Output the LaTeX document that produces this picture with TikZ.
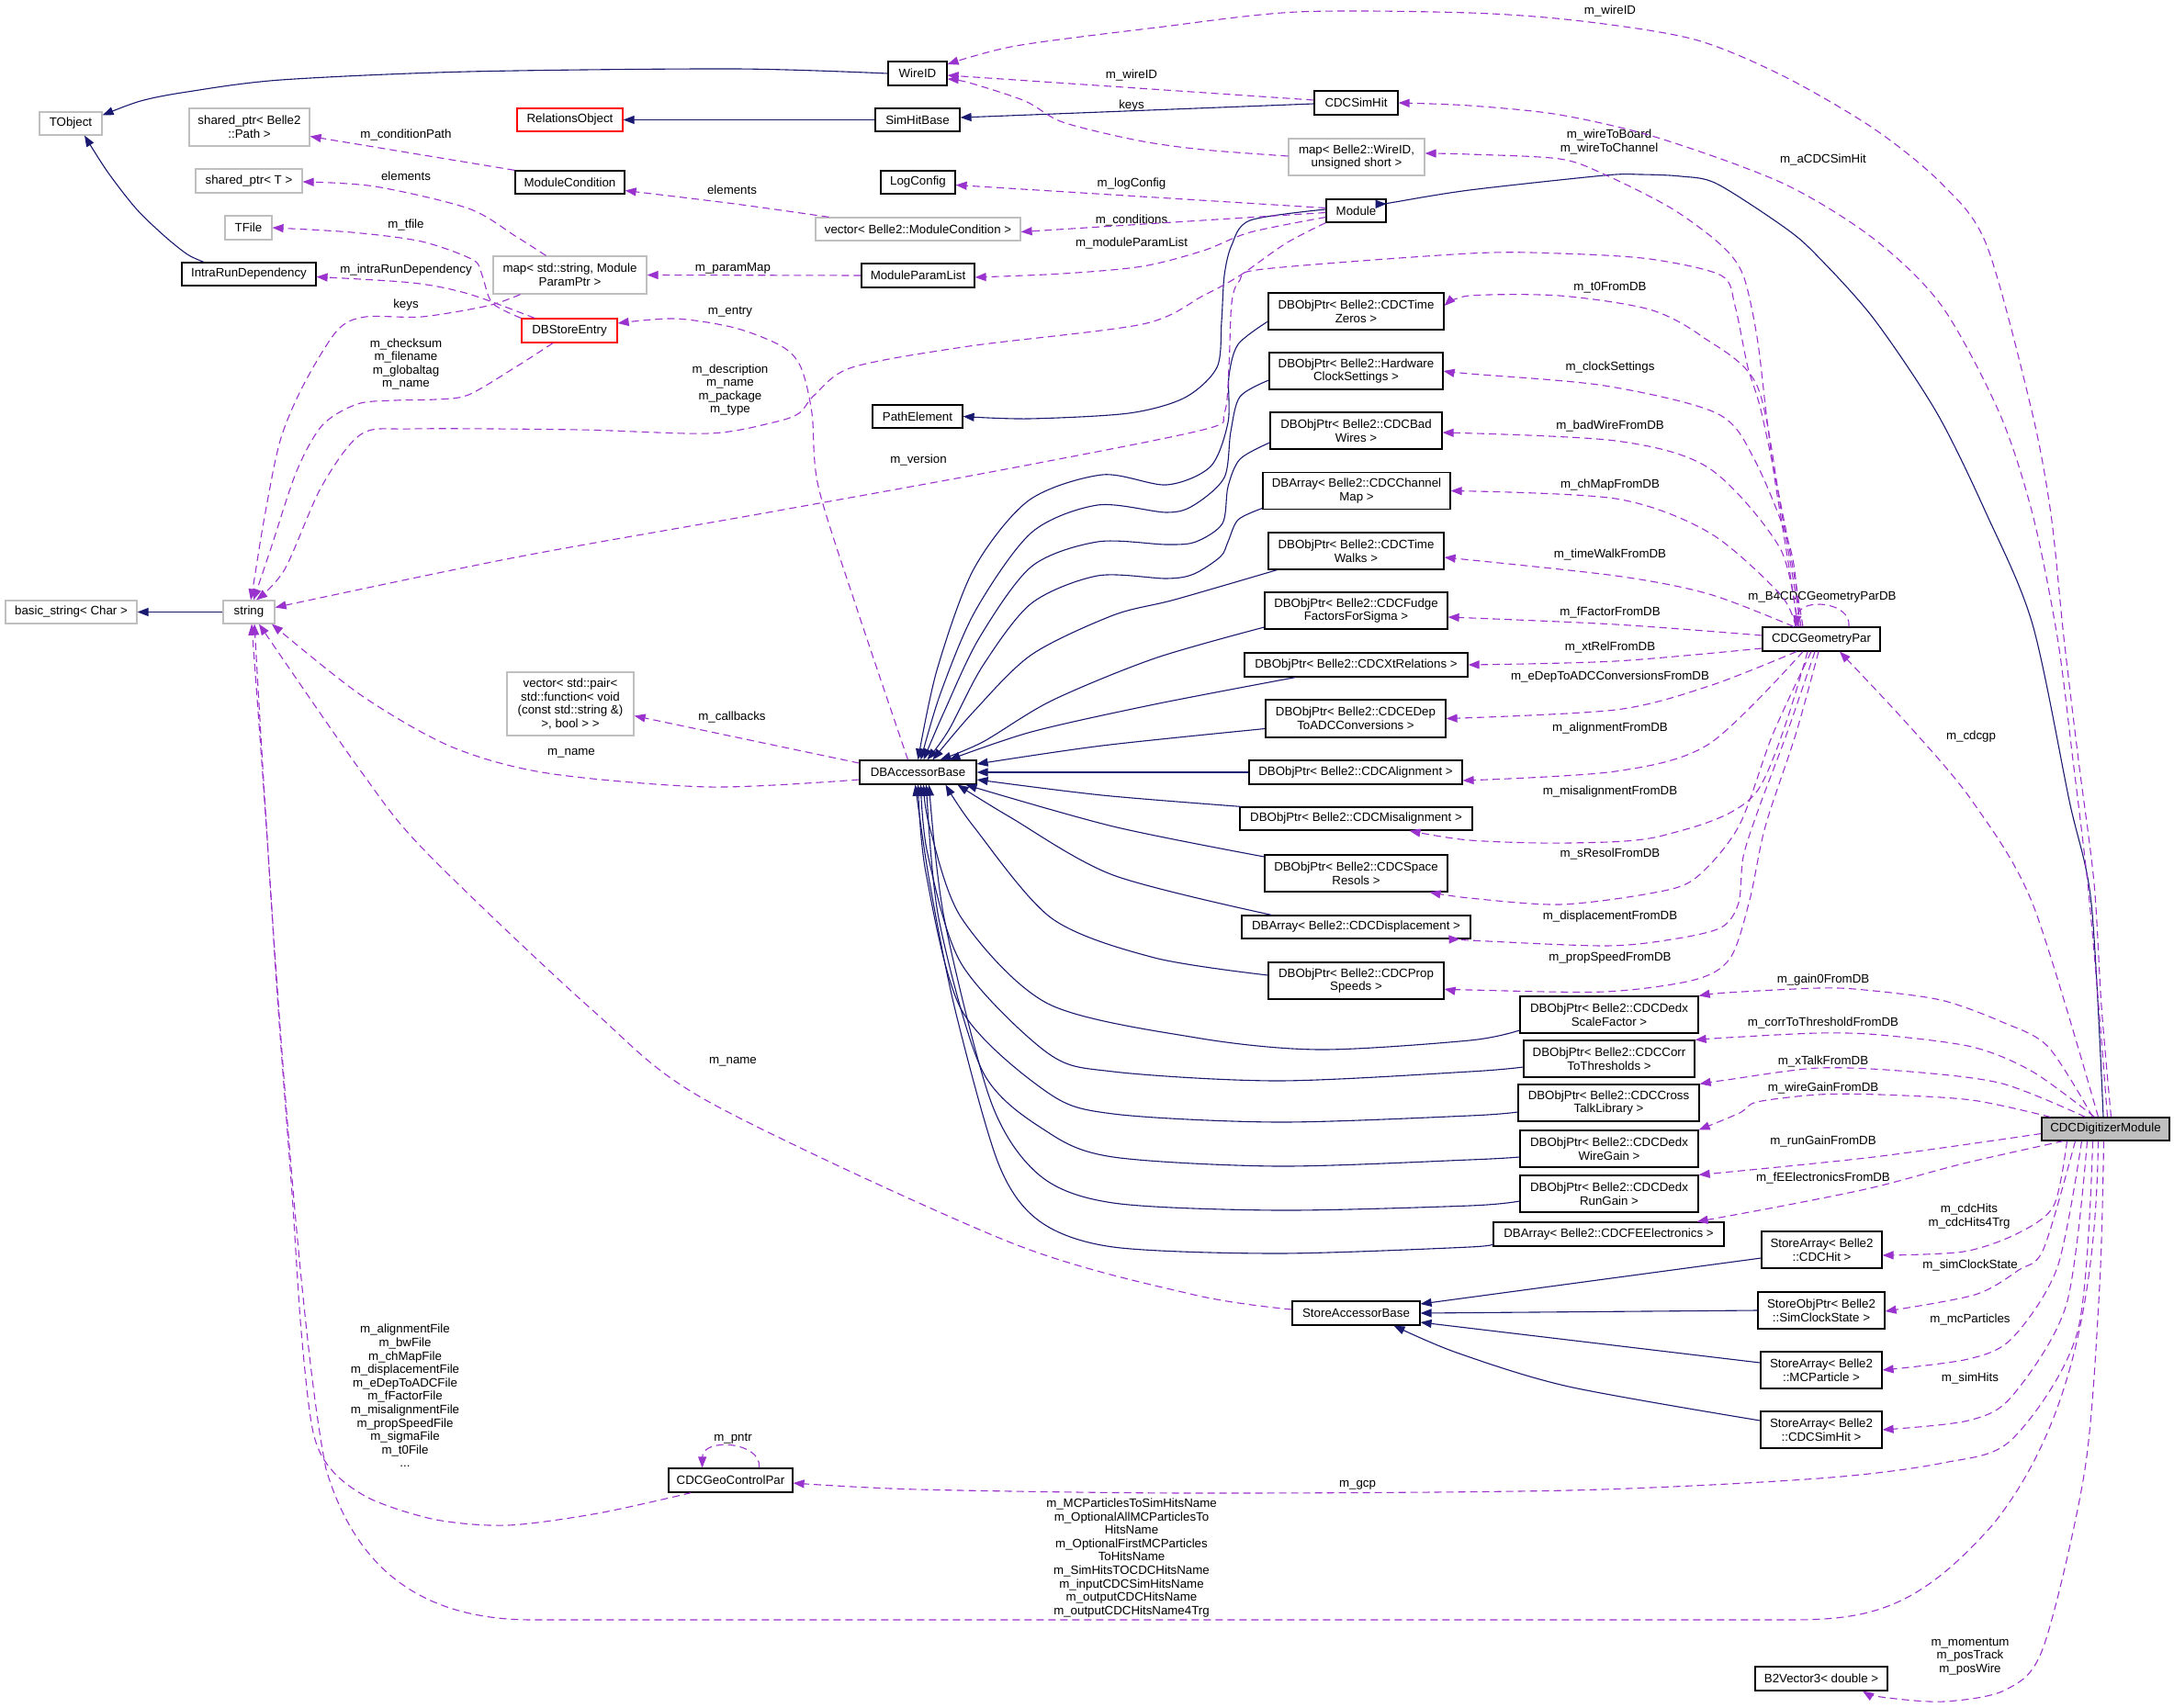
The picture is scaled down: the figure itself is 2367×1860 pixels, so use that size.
\documentclass[tikz,border=0pt]{standalone}
\usepackage{fontspec}
\setmainfont{Liberation Sans}
\usetikzlibrary{arrows.meta}
\definecolor{navy}{HTML}{191970}
\definecolor{purp}{HTML}{9A32CD}
\definecolor{gbx}{HTML}{BFBFBF}
\definecolor{redb}{HTML}{FF0000}
\newcommand\nf{\fontsize{13.3}{14.6}\selectfont}
\tikzset{
  cls/.style={draw=black, line width=1.2pt, inner sep=0pt, align=center, font=\nf, text=black},
  ext/.style={cls, draw=gbx},
  redbox/.style={cls, draw=redb},
  lbl/.style={inner sep=0pt, align=center, font=\nf},
  inh/.style={draw=navy, line width=1.1pt, -{Triangle[length=12pt,width=9pt]}},
  usg/.style={draw=purp, line width=1.1pt, dash pattern=on 8pt off 5pt, -{Triangle[length=12pt,width=9pt]}},
}
\begin{document}
\begin{tikzpicture}[x=1pt,y=-1pt]
\fill[white] (0,0) rectangle (2367,1860);
\useasboundingbox (0,0) rectangle (2367,1860);
% nodes
\node[ext, minimum width=68pt, minimum height=25pt] (tobject) at (77,134.5) {TObject};
\node[ext, minimum width=131pt, minimum height=41pt] (spath) at (271.5,138.5) {shared\_ptr< Belle2\\::Path >};
\node[ext, minimum width=116pt, minimum height=26pt] (spt) at (271,197) {shared\_ptr< T >};
\node[ext, minimum width=51pt, minimum height=26pt] (tfile) at (270.5,248) {TFile};
\node[cls, minimum width=146pt, minimum height=25pt] (intra) at (271,298.5) {IntraRunDependency};
\node[redbox, minimum width=115pt, minimum height=25pt] (relobj) at (620.5,130.5) {RelationsObject};
\node[cls, minimum width=119pt, minimum height=25pt] (modcond) at (620.5,198.5) {ModuleCondition};
\node[ext, minimum width=167pt, minimum height=41pt] (mapstr) at (620.5,299.5) {map< std::string, Module\\ParamPtr >};
\node[redbox, minimum width=104pt, minimum height=26pt] (dbse) at (620,360) {DBStoreEntry};
\node[cls, minimum width=64pt, minimum height=26pt] (wireid) at (999,80) {WireID};
\node[cls, minimum width=92pt, minimum height=25pt] (simhitbase) at (999,130.5) {SimHitBase};
\node[cls, minimum width=91pt, minimum height=26pt] (cdcsimhit) at (1476.5,112) {CDCSimHit};
\node[ext, minimum width=148pt, minimum height=40pt] (mapwire) at (1477,171) {map< Belle2::WireID,\\unsigned short >};
\node[cls, minimum width=81pt, minimum height=25pt] (logconfig) at (999.5,198.5) {LogConfig};
\node[ext, minimum width=223pt, minimum height=25pt] (vecmc) at (999.5,249.5) {vector< Belle2::ModuleCondition >};
\node[cls, minimum width=65pt, minimum height=25pt] (module) at (1476.5,229.5) {Module};
\node[cls, minimum width=123pt, minimum height=26pt] (mpl) at (999.5,300) {ModuleParamList};
\node[cls, minimum width=191pt, minimum height=40pt] (zeros) at (1476.5,339) {DBObjPtr< Belle2::CDCTime\\Zeros >};
\node[cls, minimum width=189pt, minimum height=40pt] (hw) at (1476.5,404) {DBObjPtr< Belle2::Hardware\\ClockSettings >};
\node[cls, minimum width=98pt, minimum height=25pt] (pathel) at (999,453.5) {PathElement};
\node[cls, minimum width=187pt, minimum height=40pt] (badw) at (1476.5,469) {DBObjPtr< Belle2::CDCBad\\Wires >};
\node[cls, minimum width=204pt, minimum height=40pt] (chmap) at (1477,534.5) {DBArray< Belle2::CDCChannel\\Map >};
\node[cls, minimum width=191pt, minimum height=40pt] (walks) at (1476.5,600) {DBObjPtr< Belle2::CDCTime\\Walks >};
\node[cls, minimum width=199pt, minimum height=40pt] (fudge) at (1476.5,665) {DBObjPtr< Belle2::CDCFudge\\FactorsForSigma >};
\node[cls, minimum width=243pt, minimum height=26pt] (xt) at (1476.5,724) {DBObjPtr< Belle2::CDCXtRelations >};
\node[cls, minimum width=196pt, minimum height=41pt] (edep) at (1476,782.5) {DBObjPtr< Belle2::CDCEDep\\ToADCConversions >};
\node[cls, minimum width=232pt, minimum height=26pt] (align) at (1476,841) {DBObjPtr< Belle2::CDCAlignment >};
\node[cls, minimum width=253pt, minimum height=25pt] (misal) at (1476.5,891.5) {DBObjPtr< Belle2::CDCMisalignment >};
\node[cls, minimum width=199pt, minimum height=40pt] (sres) at (1476.5,951) {DBObjPtr< Belle2::CDCSpace\\Resols >};
\node[cls, minimum width=249pt, minimum height=25pt] (displ) at (1476.5,1009.5) {DBArray< Belle2::CDCDisplacement >};
\node[cls, minimum width=191pt, minimum height=40pt] (prop) at (1476.5,1068) {DBObjPtr< Belle2::CDCProp\\Speeds >};
\node[cls, minimum width=128pt, minimum height=26pt] (geom) at (1983,696) {CDCGeometryPar};
\node[ext, minimum width=143pt, minimum height=25pt] (bstr) at (77.5,666.5) {basic\_string< Char >};
\node[ext, minimum width=56pt, minimum height=25pt] (string) at (271,666.5) {string};
\node[ext, minimum width=138pt, minimum height=69pt] (vecpair) at (621,766.5) {vector< std::pair<\\std::function< void\\(const std::string \&)\\>, bool > >};
\node[cls, minimum width=127pt, minimum height=26pt] (dbab) at (999.5,841) {DBAccessorBase};
\node[cls, minimum width=194pt, minimum height=40pt] (scale) at (1752,1105) {DBObjPtr< Belle2::CDCDedx\\ScaleFactor >};
\node[cls, minimum width=186pt, minimum height=40pt] (corr) at (1752,1153) {DBObjPtr< Belle2::CDCCorr\\ToThresholds >};
\node[cls, minimum width=197pt, minimum height=40pt] (cross) at (1751.5,1201) {DBObjPtr< Belle2::CDCCross\\TalkLibrary >};
\node[cls, minimum width=194pt, minimum height=40pt] (wgain) at (1752,1251) {DBObjPtr< Belle2::CDCDedx\\WireGain >};
\node[cls, minimum width=194pt, minimum height=40pt] (rgain) at (1752,1300) {DBObjPtr< Belle2::CDCDedx\\RunGain >};
\node[cls, minimum width=251pt, minimum height=26pt] (fee) at (1751.5,1344) {DBArray< Belle2::CDCFEElectronics >};
\node[cls, fill=gbx, minimum width=139pt, minimum height=25pt] (digit) at (2292.5,1229.5) {CDCDigitizerModule};
\node[cls, minimum width=131pt, minimum height=40pt] (cdchit) at (1983.5,1361) {StoreArray< Belle2\\::CDCHit >};
\node[cls, minimum width=138pt, minimum height=40pt] (simclock) at (1983,1427) {StoreObjPtr< Belle2\\::SimClockState >};
\node[cls, minimum width=132pt, minimum height=40pt] (mcpart) at (1983,1492) {StoreArray< Belle2\\::MCParticle >};
\node[cls, minimum width=132pt, minimum height=40pt] (sasimhit) at (1983,1557) {StoreArray< Belle2\\::CDCSimHit >};
\node[cls, minimum width=139pt, minimum height=26pt] (sab) at (1476.5,1430) {StoreAccessorBase};
\node[cls, minimum width=144pt, minimum height=26pt] (b2v) at (1983,1828) {B2Vector3< double >};
\node[cls, minimum width=135pt, minimum height=26pt] (geoctrl) at (795.5,1612) {CDCGeoControlPar};
% labels
\node[lbl] (l01) at (1753,12) {m\_wireID};
\node[lbl] (l02) at (1232,82) {m\_wireID};
\node[lbl] (l03) at (1232,115) {keys};
\node[lbl] (l04) at (1752,154.5) {m\_wireToBoard\\m\_wireToChannel};
\node[lbl] (l05) at (1985,174) {m\_aCDCSimHit};
\node[lbl] (l06) at (1232,200) {m\_logConfig};
\node[lbl] (l07) at (1232,240) {m\_conditions};
\node[lbl] (l08) at (1232,265) {m\_moduleParamList};
\node[lbl] (l09) at (442,147) {m\_conditionPath};
\node[lbl] (l10) at (442,192) {elements};
\node[lbl] (l11) at (442,245) {m\_tfile};
\node[lbl] (l12) at (442,294) {m\_intraRunDependency};
\node[lbl] (l13) at (442,332) {keys};
\node[lbl] (l14) at (442,396.5) {m\_checksum\\m\_filename\\m\_globaltag\\m\_name};
\node[lbl] (l15) at (795,424.5) {m\_description\\m\_name\\m\_package\\m\_type};
\node[lbl] (l16) at (795,340) {m\_entry};
\node[lbl] (l17) at (798,292) {m\_paramMap};
\node[lbl] (l18) at (797,207) {elements};
\node[lbl] (l19) at (1753,313) {m\_t0FromDB};
\node[lbl] (l20) at (1753,400) {m\_clockSettings};
\node[lbl] (l21) at (1000,501) {m\_version};
\node[lbl] (l22) at (797,781) {m\_callbacks};
\node[lbl] (l23) at (622,820) {m\_name};
\node[lbl] (l24) at (1753,464) {m\_badWireFromDB};
\node[lbl] (l25) at (1753,528) {m\_chMapFromDB};
\node[lbl] (l26) at (1753,604) {m\_timeWalkFromDB};
\node[lbl] (l27) at (1984,650) {m\_B4CDCGeometryParDB};
\node[lbl] (l28) at (1753,667) {m\_fFactorFromDB};
\node[lbl] (l29) at (1753,705) {m\_xtRelFromDB};
\node[lbl] (l30) at (1753,737) {m\_eDepToADCConversionsFromDB};
\node[lbl] (l31) at (1753,793) {m\_alignmentFromDB};
\node[lbl] (l32) at (1753,862) {m\_misalignmentFromDB};
\node[lbl] (l33) at (1753,930) {m\_sResolFromDB};
\node[lbl] (l34) at (1753,998) {m\_displacementFromDB};
\node[lbl] (l35) at (1753,1043) {m\_propSpeedFromDB};
\node[lbl] (l36) at (2146,802) {m\_cdcgp};
\node[lbl] (l37) at (1985,1067) {m\_gain0FromDB};
\node[lbl] (l38) at (1985,1114) {m\_corrToThresholdFromDB};
\node[lbl] (l39) at (1985,1156) {m\_xTalkFromDB};
\node[lbl] (l40) at (1985,1185) {m\_wireGainFromDB};
\node[lbl] (l41) at (1985,1243) {m\_runGainFromDB};
\node[lbl] (l42) at (1985,1283) {m\_fEElectronicsFromDB};
\node[lbl] (l43) at (2144,1324.5) {m\_cdcHits\\m\_cdcHits4Trg};
\node[lbl] (l44) at (2145,1378) {m\_simClockState};
\node[lbl] (l45) at (2145,1437) {m\_mcParticles};
\node[lbl] (l46) at (2145,1501) {m\_simHits};
\node[lbl] (l47) at (798,1156) {m\_name};
\node[lbl] (l48) at (441,1520) {m\_alignmentFile\\m\_bwFile\\m\_chMapFile\\m\_displacementFile\\m\_eDepToADCFile\\m\_fFactorFile\\m\_misalignmentFile\\m\_propSpeedFile\\m\_sigmaFile\\m\_t0File\\...};
\node[lbl] (l49) at (798,1567) {m\_pntr};
\node[lbl] (l50) at (1478,1617) {m\_gcp};
\node[lbl] (l51) at (1232,1696.5) {m\_MCParticlesToSimHitsName\\m\_OptionalAllMCParticlesTo\\HitsName\\m\_OptionalFirstMCParticles\\ToHitsName\\m\_SimHitsTOCDCHitsName\\m\_inputCDCSimHitsName\\m\_outputCDCHitsName\\m\_outputCDCHitsName4Trg};
\node[lbl] (l52) at (2145,1804) {m\_momentum\\m\_posTrack\\m\_posWire};
% inheritance
\draw[inh] plot[smooth] coordinates {(wireid.west) (800,75) (510,78) (306,87) (204,100) (153,110) ([yshift=9pt]tobject.east)};
\draw[inh] plot[smooth] coordinates {([xshift=-49pt]intra.north) (204,277) (179,257) (148,227) (117,187) ([xshift=15pt]tobject.south)};
\draw[inh] (simhitbase.west) -- (relobj.east);
\draw[inh] ([yshift=-1pt]cdcsimhit.west) -- ([yshift=2.5pt]simhitbase.east);
\draw[inh] plot[smooth] coordinates {([yshift=1.5pt]module.west) (1361,240) (1341,267) (1333,300) (1330,350) (1325,400) (1290,433) (1229,450) (1120,456) (pathel.east)};
\draw[inh] plot[smooth] coordinates {([xshift=-2.5pt]digit.north) (2277,984) (2253,872) (2213,680) (2163,560) (2109,450) (2040,347) (1977,277) (1942,247) (1869,200) (1830,192) (1786,190) (1747,191) (1600,207) (1519,220) ([yshift=7.5pt]module.east)};
\draw[inh] plot[smooth] coordinates {([yshift=-11pt]zeros.west) (1348,375) (1338,410) (1337,460) (1318,508) (1270,528) (1200,517) (1120,545) (1060,620) (1020,730) (dbab.north)};
\draw[inh] plot[smooth] coordinates {([yshift=-10pt]hw.west) (1350,432) (1340,470) (1333,520) (1300,550) (1270,558) (1195,550) (1123,580) (1062,665) (1024,755) ([xshift=3pt]dbab.north)};
\draw[inh] plot[smooth] coordinates {([yshift=-13pt]badw.west) (1350,500) (1337,530) (1331,570) (1302,590) (1270,593) (1195,590) (1123,617) (1066,695) (1028,775) ([xshift=6pt]dbab.north)};
\draw[inh] plot[smooth] coordinates {([yshift=-19pt]chmap.west) (1348,566) (1337,590) (1329,606) (1300,625) (1270,630) (1195,627) (1123,657) (1070,725) (1033,795) ([xshift=10pt]dbab.north)};
\draw[inh] plot[smooth] coordinates {([xshift=-86pt]walks.south) (1279,653) (1212,670) (1123,713) (1060,775) ([xshift=16pt]dbab.north)};
\draw[inh] plot[smooth] coordinates {([yshift=-18pt]fudge.west) (1257,717) (1145,763) (1070,808) ([xshift=24pt]dbab.north)};
\draw[inh] plot[smooth] coordinates {([xshift=-66pt]xt.south) (1257,767) (1123,797) ([xshift=34pt]dbab.north)};
\draw[inh] plot[smooth] coordinates {([yshift=-11pt]edep.west) (1200,812) ([yshift=9pt]dbab.east)};
\draw[inh] (align.west) -- (dbab.east);
\draw[inh] plot[smooth] coordinates {([xshift=-125pt]misal.north) (1200,866) ([yshift=-8pt]dbab.east)};
\draw[inh] plot[smooth] coordinates {([yshift=18pt]sres.west) (1212,900) ([xshift=52pt]dbab.south)};
\draw[inh] plot[smooth] coordinates {([xshift=-92pt]displ.north) (1212,953) (1100,890) ([xshift=43pt]dbab.south)};
\draw[inh] plot[smooth] coordinates {([yshift=6pt]prop.west) (1257,1043) (1145,1000) (1060,900) ([xshift=30pt]dbab.south)};
\draw[inh] plot[smooth] coordinates {([yshift=-17pt]scale.west) (1600,1133) (1436,1143) (1302,1130) (1141,1093) (1047,1000) (1012,900) ([xshift=6pt]dbab.south)};
\draw[inh] plot[smooth] coordinates {([yshift=-9pt]corr.west) (1600,1167) (1391,1177) (1212,1167) (1141,1147) (1047,1050) (1010,930) ([xshift=3pt]dbab.south)};
\draw[inh] plot[smooth] coordinates {([yshift=-10pt]cross.west) (1600,1215) (1391,1222) (1212,1213) (1141,1190) (1047,1100) (1008,950) (dbab.south)};
\draw[inh] plot[smooth] coordinates {([yshift=-9pt]wgain.west) (1600,1263) (1391,1270) (1212,1260) (1141,1233) (1070,1167) (1022,1000) ([xshift=9pt]dbab.south)};
\draw[inh] plot[smooth] coordinates {([yshift=-8pt]rgain.west) (1600,1313) (1391,1318) (1212,1310) (1132,1280) (1079,1200) (1028,1000) ([xshift=12pt]dbab.south)};
\draw[inh] plot[smooth] coordinates {([yshift=-10pt]fee.west) (1600,1358) (1391,1365) (1212,1358) (1132,1330) (1087,1267) (1040,1100) (1012,960) ([xshift=-3pt]dbab.south)};
\draw[inh] ([yshift=-9pt]cdchit.west) -- ([yshift=10pt]sab.east);
\draw[inh] (simclock.west) -- (sab.east);
\draw[inh] ([yshift=8pt]mcpart.west) -- ([yshift=-10pt]sab.east);
\draw[inh] plot[smooth] coordinates {([yshift=10pt]sasimhit.west) (1708,1510) (1586,1473) ([xshift=41pt]sab.south)};
\draw[inh] (string.west) -- (bstr.east);
% usage
\draw[usg] plot[smooth] coordinates {([xshift=6pt]digit.north) (2288,1096) (2280,962) (2263,828) (2247,694) (2233,560) (2212,447) (2163,267) (2114,200) (2040,140) (1942,83) (1845,43) (1722,23) (1600,14) (1412,13) (1259,30) (1106,50) ([yshift=10pt]wireid.east)};
\draw[usg] plot[smooth] coordinates {([xshift=2pt]digit.north) (2285,1096) (2273,962) (2257,828) (2240,694) (2213,560) (2177,450) (2114,333) (2040,260) (1942,200) (1805,150) (1698,125) (1600,115) (cdcsimhit.east)};
\draw[usg] ([yshift=3pt]cdcsimhit.west) -- ([yshift=-2pt]wireid.east);
\draw[usg] plot[smooth] coordinates {([yshift=1pt]mapwire.west) (1310,163) (1239,153) (1157,133) (1116,110) (1055,90) ([yshift=-6pt]wireid.east)};
\draw[usg] plot[smooth] coordinates {([xshift=-25pt]geom.north) (1945,600) (1932,520) (1923,450) (1913,367) (1898,300) (1874,267) (1820,227) (1747,190) (1698,173) (1600,168) ([yshift=4pt]mapwire.east)};
\draw[usg] ([yshift=3pt]module.west) -- ([yshift=-3pt]logconfig.east);
\draw[usg] ([yshift=-2pt]module.west) -- ([yshift=-3pt]vecmc.east);
\draw[usg] plot[smooth] coordinates {([yshift=-7pt]module.west) (1361,253) (1310,273) (1244,290) (1157,298) ([yshift=-2pt]mpl.east)};
\draw[usg] (mpl.west) -- (mapstr.east);
\draw[usg] plot[smooth] coordinates {([xshift=-97pt]vecmc.north) (800,222) ([yshift=-9pt]modcond.east)};
\draw[usg] (modcond.north west) -- ([yshift=-10pt]spath.east);
\draw[usg] plot[smooth] coordinates {([xshift=-26pt]mapstr.north) (561,257) (510,227) (408,203) ([yshift=-1pt]spt.east)};
\draw[usg] plot[smooth] coordinates {(dbse.north west) (536,330) (525,300) (515,283) (459,263) (383,253) (tfile.east)};
\draw[usg] plot[smooth] coordinates {([xshift=-38pt]dbse.north) (510,320) (449,308) ([yshift=-3pt]intra.east)};
\draw[usg] plot[smooth] coordinates {([xshift=-54pt]mapstr.south) (531,333) (459,345) (398,345) (367,360) (330,420) (305,480) (288,563) (277,630) ([xshift=2pt]string.north)};
\draw[usg] plot[smooth] coordinates {([xshift=-18pt]dbse.south) (561,400) (510,430) (474,435) (430,436) (389,440) (351,463) (323,513) (295,597) ([xshift=5pt]string.north)};
\draw[usg] plot[smooth] coordinates {(module.south west) (1400,265) (1350,300) (1310,322) (1244,353) (1055,377) (928,400) (887,430) (870,450) (842,460) (772,472) (631,468) (449,467) (393,473) (350,530) (310,620) ([xshift=8pt]string.north)};
\draw[usg] plot[smooth] coordinates {([xshift=-20pt]geom.north) (1945,580) (1918,450) (1903,400) (1889,333) (1874,300) (1796,282) (1698,276) (1600,276) (1376,293) (1350,305) (1341,330) (1338,400) (1333,450) (1310,468) (1100,510) (842,557) (561,607) ([yshift=5pt]string.east)};
\draw[usg] plot[smooth] coordinates {([xshift=-11pt]dbab.north) (933,663) (891,530) (884,450) (872,400) (851,377) (800,357) (735,347) ([yshift=8pt]dbse.east)};
\draw[usg] ([yshift=10pt]dbab.west) -- ([yshift=-13pt]vecpair.east);
\draw[usg] plot[smooth] coordinates {([yshift=-8pt]dbab.west) (772,857) (596,842) (491,813) (393,757) ([xshift=25pt]string.south)};
\draw[usg] plot[smooth] coordinates {([yshift=4pt]sab.west) (1300,1410) (1100,1353) (772,1200) (645,1100) (463,927) (393,840) ([xshift=11pt]string.south)};
\draw[usg] plot[smooth] coordinates {([xshift=-43pt]geoctrl.south) (651,1648) (553,1661) (475,1655) (405,1633) (363,1603) (341,1560) (328,1450) (318,1300) (303,1100) (290,900) ([xshift=3pt]string.south)};
\draw[usg] ([xshift=-8pt]digit.south) .. controls (2282,1420) and (2250,1560) .. (2170,1660)
  .. controls (2090,1750) and (2040,1764) .. (1950,1764) -- (580,1764)
  .. controls (450,1764) and (385,1700) .. (355,1600)
  .. controls (325,1450) and (295,1000) .. ([xshift=6pt]string.south);
\draw[usg] plot[smooth] coordinates {([xshift=-8pt]digit.north) (2213,984) (2147,872) (2080,792) ([xshift=20pt]geom.south)};
\draw[usg] plot[smooth] coordinates {([xshift=-22pt]geom.north) (1940,560) (1913,420) (1854,367) (1796,337) (1698,322) (1600,322) ([yshift=6pt]zeros.east)};
\draw[usg] plot[smooth] coordinates {([xshift=-24pt]geom.north) (1950,600) (1910,500) (1869,450) (1747,420) (1600,407) (hw.east)};
\draw[usg] plot[smooth] coordinates {([xshift=-26pt]geom.north) (1938,597) (1861,510) (1759,480) ([yshift=-2pt]badw.east)};
\draw[usg] plot[smooth] coordinates {([xshift=-28pt]geom.north) (1938,647) (1861,580) (1759,543) (chmap.east)};
\draw[usg] plot[smooth] coordinates {([xshift=-30pt]geom.north) (1861,647) (1759,627) ([yshift=-7pt]walks.east)};
\draw[usg] plot[smooth] coordinates {([yshift=4pt]geom.west) (1759,680) ([yshift=-7pt]fudge.east)};
\draw[usg] plot[smooth] coordinates {([yshift=-10pt]geom.west) (1759,720) (xt.east)};
\draw[usg] plot[smooth] coordinates {([xshift=-27pt]geom.south) (1861,747) (1759,773) (edep.east)};
\draw[usg] plot[smooth] coordinates {([xshift=-20pt]geom.south) (1861,810) (1759,840) ([yshift=-9pt]align.east)};
\draw[usg] plot[smooth] coordinates {([xshift=-15pt]geom.south) (1912,863) (1810,910) (1708,918) (1600,915) ([xshift=58pt]misal.south)};
\draw[usg] plot[smooth] coordinates {([xshift=-11pt]geom.south) (1930,800) (1893,900) (1845,957) (1796,973) (1698,985) (1600,978) ([xshift=80pt]sres.south)};
\draw[usg] plot[smooth] coordinates {([xshift=-7pt]geom.south) (1945,800) (1915,880) (1898,933) (1893,983) (1874,1010) (1820,1023) (1747,1030) (1600,1024) ([xshift=113pt]displ.south)};
\draw[usg] plot[smooth] coordinates {([xshift=-3pt]geom.south) (1955,800) (1922,900) (1905,980) (1884,1043) (1845,1067) (1747,1080) (1600,1078) ([yshift=-9pt]prop.east)};
\draw[usg] ([xshift=30pt]geom.north) .. controls (2016,655) and (1960,650) .. ([xshift=-28pt]geom.north);
\draw[usg] ([xshift=31pt]geoctrl.north) .. controls (830,1570) and (765,1565) .. ([xshift=-31pt]geoctrl.north);
\draw[usg] plot[smooth] coordinates {([xshift=-14pt]digit.north) (2230,1140) (2180,1113) (2113,1089) (2030,1078) (1980,1076) (1880,1081) (scale.north east)};
\draw[usg] plot[smooth] coordinates {([xshift=-12pt]digit.north) (2213,1167) (2147,1140) (2047,1127) (1980,1125) (1880,1130) (corr.north east)};
\draw[usg] plot[smooth] coordinates {([xshift=-22pt]digit.north) (2180,1180) (2080,1167) (1980,1163) (1880,1176) (cross.north east)};
\draw[usg] plot[smooth] coordinates {([xshift=-60pt]digit.north) (2147,1198) (2047,1192) (1980,1192) (1913,1200) (1894,1212) (wgain.north east)};
\draw[usg] plot[smooth] coordinates {([yshift=-5pt]digit.west) (2040,1260) (rgain.north east)};
\draw[usg] plot[smooth] coordinates {([xshift=-46pt]digit.south) (2138,1267) (2040,1293) (1942,1313) ([xshift=-30pt]fee.north east)};
\draw[usg] plot[smooth] coordinates {([xshift=-42pt]digit.south) (2236,1313) (2197,1343) (2138,1363) ([yshift=-6pt]cdchit.east)};
\draw[usg] plot[smooth] coordinates {([xshift=-33pt]digit.south) (2225,1360) (2198,1383) (2150,1410) ([yshift=-1pt]simclock.east)};
\draw[usg] plot[smooth] coordinates {([xshift=-26pt]digit.south) (2240,1380) (2191,1457) (2143,1480) (mcpart.east)};
\draw[usg] plot[smooth] coordinates {([xshift=-20pt]digit.south) (2250,1420) (2191,1520) (2143,1547) (sasimhit.east)};
\draw[usg] plot[smooth] coordinates {([xshift=-14pt]digit.south) (2262,1450) (2191,1567) (2116,1593) (1980,1610) (1708,1623) (1300,1626) (1000,1622) ([yshift=-3pt]geoctrl.east)};
\draw[usg] plot[smooth] coordinates {([xshift=-2pt]digit.south) (2286,1400) (2270,1600) (2225,1793) (2184,1840) (2116,1853) (2048,1848) ([xshift=45pt]b2v.south)};
\end{tikzpicture}
\end{document}
